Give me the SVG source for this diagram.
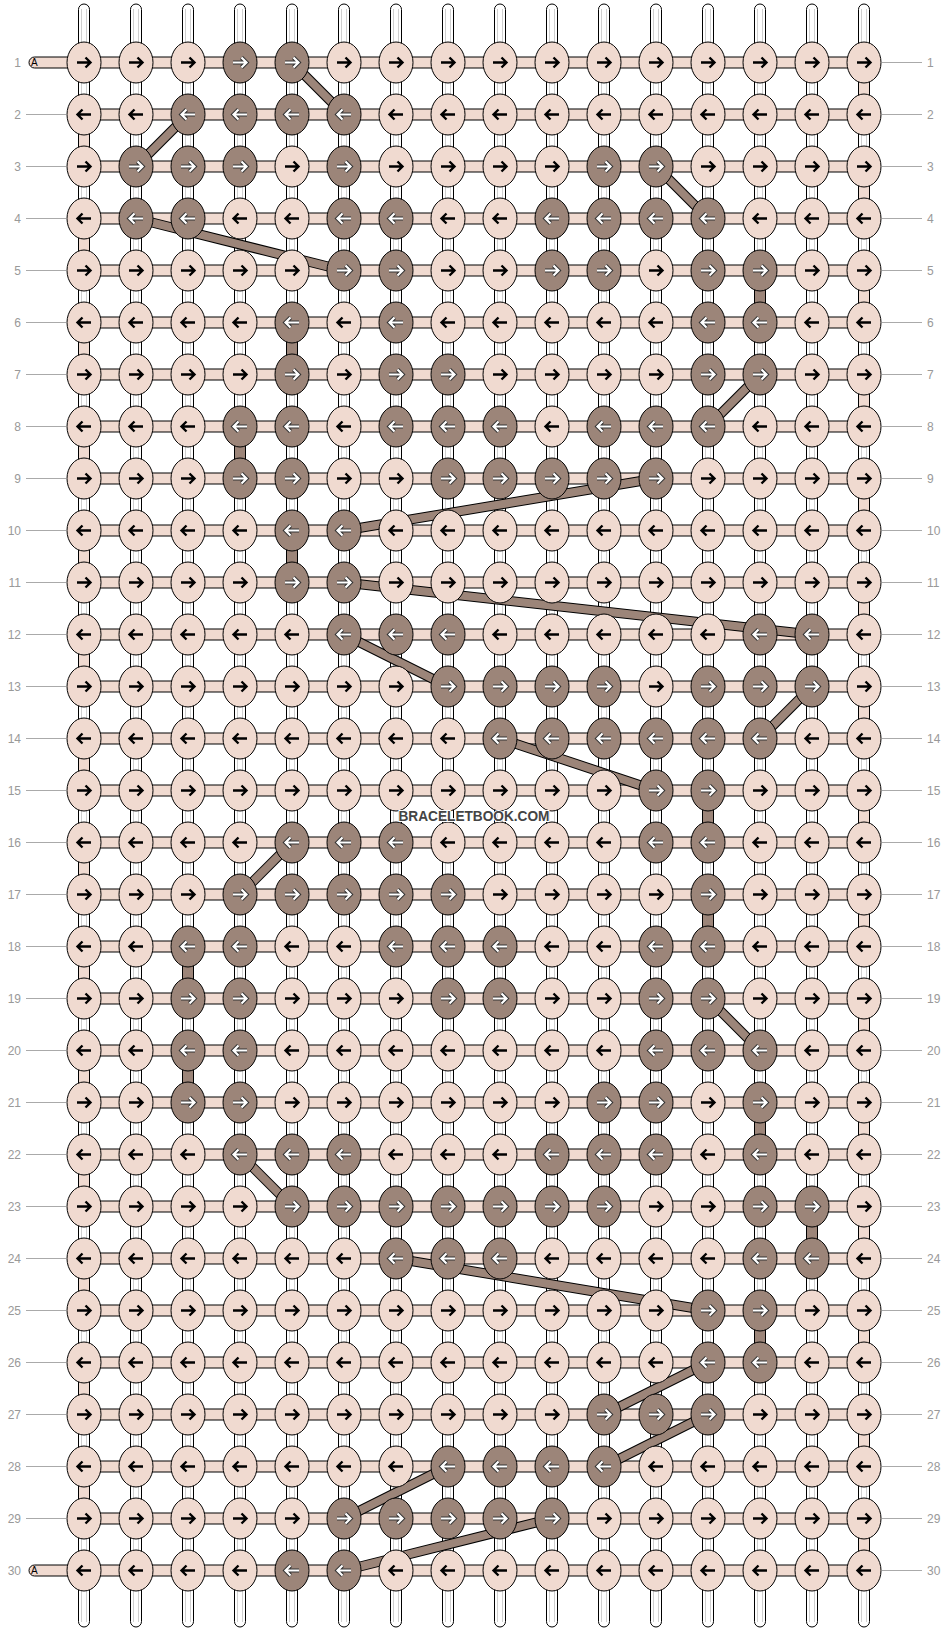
<svg xmlns="http://www.w3.org/2000/svg" xmlns:xlink="http://www.w3.org/1999/xlink" width="948" height="1632" viewBox="0 0 948 1632">
<style>
.vs{fill:#fff;stroke:#000;stroke-width:1}
.vl{stroke:#cfcfcf;stroke-width:1;fill:none}
.hs{fill:#f0dad0;stroke:#000;stroke-width:1}
.dv{fill:#9c8579;stroke:#000;stroke-width:1}
.bo{stroke:#000;stroke-width:10;fill:none}
.bi{stroke:#9c8579;stroke-width:8;fill:none}
.kl{fill:#f0dad0;stroke:#000;stroke-width:1}
.kd{fill:#9c8579;stroke:#000;stroke-width:1}
.ab{fill:none;stroke:#000;stroke-width:2.4}
.ao{fill:none;stroke:#333;stroke-width:4.2}
.aw{fill:none;stroke:#fff;stroke-width:2.2}
.lb{font-family:"Liberation Sans",Arial,sans-serif;font-size:12px;fill:#999}
.ll{stroke:#aaa;stroke-width:1}
.a{font-family:"Liberation Sans",Arial,sans-serif;font-size:10px;fill:#000}
.wm{font-family:"Liberation Sans",Arial,sans-serif;font-size:14.5px;font-weight:bold;fill:#444;stroke:#fff;stroke-width:2;paint-order:stroke}
</style>
<defs>
<g id="vs"><rect class="vs" x="-5.5" y="4" width="11" height="1623" rx="5.5"/><path class="vl" d="M-2.5 9V1622M2.5 9V1622"/></g>
<g id="LR"><ellipse class="kl" rx="17" ry="20.5"/><path class="ab" d="M-7 0H6M1.5-5L6.5 0L1.5 5"/></g>
<g id="LL"><ellipse class="kl" rx="17" ry="20.5"/><path class="ab" d="M7 0H-6M-1.5-5L-6.5 0L-1.5 5"/></g>
<g id="DR"><ellipse class="kd" rx="17" ry="20.5"/><path class="ao" d="M-7 0H6M1.5-5L6.5 0L1.5 5"/><path class="aw" d="M-7 0H6M1.5-5L6.5 0L1.5 5"/></g>
<g id="DL"><ellipse class="kd" rx="17" ry="20.5"/><path class="ao" d="M7 0H-6M-1.5-5L-6.5 0L-1.5 5"/><path class="aw" d="M7 0H-6M-1.5-5L-6.5 0L-1.5 5"/></g>
</defs>
<rect width="948" height="1632" fill="#fff"/>
<g id="strings">
<use href="#vs" x="84"/><use href="#vs" x="136"/><use href="#vs" x="188"/><use href="#vs" x="240"/><use href="#vs" x="292"/><use href="#vs" x="344"/><use href="#vs" x="396"/><use href="#vs" x="448"/><use href="#vs" x="500"/><use href="#vs" x="552"/><use href="#vs" x="604"/><use href="#vs" x="656"/><use href="#vs" x="708"/><use href="#vs" x="760"/><use href="#vs" x="812"/><use href="#vs" x="864"/>
<rect class="hs" x="29" y="57" width="835" height="11" rx="5.5"/>
<rect class="hs" x="84" y="109" width="780" height="11"/>
<rect class="hs" x="84" y="161" width="780" height="11"/>
<rect class="hs" x="84" y="213" width="780" height="11"/>
<rect class="hs" x="84" y="265" width="780" height="11"/>
<rect class="hs" x="84" y="317" width="780" height="11"/>
<rect class="hs" x="84" y="369" width="780" height="11"/>
<rect class="hs" x="84" y="421" width="780" height="11"/>
<rect class="hs" x="84" y="473" width="780" height="11"/>
<rect class="hs" x="84" y="525" width="780" height="11"/>
<rect class="hs" x="84" y="577" width="780" height="11"/>
<rect class="hs" x="84" y="629" width="780" height="11"/>
<rect class="hs" x="84" y="681" width="780" height="11"/>
<rect class="hs" x="84" y="733" width="780" height="11"/>
<rect class="hs" x="84" y="785" width="780" height="11"/>
<rect class="hs" x="84" y="837" width="780" height="11"/>
<rect class="hs" x="84" y="889" width="780" height="11"/>
<rect class="hs" x="84" y="941" width="780" height="11"/>
<rect class="hs" x="84" y="993" width="780" height="11"/>
<rect class="hs" x="84" y="1045" width="780" height="11"/>
<rect class="hs" x="84" y="1097" width="780" height="11"/>
<rect class="hs" x="84" y="1149" width="780" height="11"/>
<rect class="hs" x="84" y="1201" width="780" height="11"/>
<rect class="hs" x="84" y="1253" width="780" height="11"/>
<rect class="hs" x="84" y="1305" width="780" height="11"/>
<rect class="hs" x="84" y="1357" width="780" height="11"/>
<rect class="hs" x="84" y="1409" width="780" height="11"/>
<rect class="hs" x="84" y="1461" width="780" height="11"/>
<rect class="hs" x="84" y="1513" width="780" height="11"/>
<rect class="hs" x="29" y="1565" width="835" height="11" rx="5.5"/>
<g id="turns">
<rect class="hs" x="858.5" y="62.5" width="11" height="52"/><rect class="hs" x="858.5" y="166.5" width="11" height="52"/><rect class="hs" x="858.5" y="270.5" width="11" height="52"/><rect class="hs" x="858.5" y="374.5" width="11" height="52"/><rect class="hs" x="858.5" y="478.5" width="11" height="52"/><rect class="hs" x="858.5" y="582.5" width="11" height="52"/><rect class="hs" x="858.5" y="686.5" width="11" height="52"/><rect class="hs" x="858.5" y="790.5" width="11" height="52"/><rect class="hs" x="858.5" y="894.5" width="11" height="52"/><rect class="hs" x="858.5" y="998.5" width="11" height="52"/><rect class="hs" x="858.5" y="1102.5" width="11" height="52"/><rect class="hs" x="858.5" y="1206.5" width="11" height="52"/><rect class="hs" x="858.5" y="1310.5" width="11" height="52"/><rect class="hs" x="858.5" y="1414.5" width="11" height="52"/><rect class="hs" x="858.5" y="1518.5" width="11" height="52"/>
<rect class="hs" x="78.5" y="114.5" width="11" height="52"/><rect class="hs" x="78.5" y="218.5" width="11" height="52"/><rect class="hs" x="78.5" y="322.5" width="11" height="52"/><rect class="hs" x="78.5" y="426.5" width="11" height="52"/><rect class="hs" x="78.5" y="530.5" width="11" height="52"/><rect class="hs" x="78.5" y="634.5" width="11" height="52"/><rect class="hs" x="78.5" y="738.5" width="11" height="52"/><rect class="hs" x="78.5" y="842.5" width="11" height="52"/><rect class="hs" x="78.5" y="946.5" width="11" height="52"/><rect class="hs" x="78.5" y="1050.5" width="11" height="52"/><rect class="hs" x="78.5" y="1154.5" width="11" height="52"/><rect class="hs" x="78.5" y="1258.5" width="11" height="52"/><rect class="hs" x="78.5" y="1362.5" width="11" height="52"/><rect class="hs" x="78.5" y="1466.5" width="11" height="52"/>
</g>
<text class="a" x="31" y="66.2">A</text>
<text class="a" x="31" y="1574.2">A</text>
</g>
<g id="connectors">
<rect class="dv" x="754.5" y="270.5" width="11" height="52"/>
<rect class="dv" x="286.5" y="322.5" width="11" height="52"/>
<rect class="dv" x="234.5" y="426.5" width="11" height="52"/>
<rect class="dv" x="286.5" y="530.5" width="11" height="52"/>
<rect class="dv" x="702.5" y="790.5" width="11" height="52"/>
<rect class="dv" x="702.5" y="894.5" width="11" height="52"/>
<rect class="dv" x="182.5" y="946.5" width="11" height="52"/>
<rect class="dv" x="182.5" y="1050.5" width="11" height="52"/>
<rect class="dv" x="754.5" y="1102.5" width="11" height="52"/>
<rect class="dv" x="806.5" y="1206.5" width="11" height="52"/>
<rect class="dv" x="754.5" y="1310.5" width="11" height="52"/>
<g class="bo">
<line x1="292" y1="62.5" x2="344" y2="114.5"/><line x1="188" y1="114.5" x2="136" y2="166.5"/><line x1="656" y1="166.5" x2="708" y2="218.5"/><line x1="136" y1="218.5" x2="344" y2="270.5"/><line x1="760" y1="374.5" x2="708" y2="426.5"/><line x1="656" y1="478.5" x2="344" y2="530.5"/><line x1="344" y1="582.5" x2="812" y2="634.5"/><line x1="344" y1="634.5" x2="448" y2="686.5"/><line x1="812" y1="686.5" x2="760" y2="738.5"/><line x1="500" y1="738.5" x2="656" y2="790.5"/><line x1="292" y1="842.5" x2="240" y2="894.5"/><line x1="708" y1="998.5" x2="760" y2="1050.5"/><line x1="240" y1="1154.5" x2="292" y2="1206.5"/><line x1="396" y1="1258.5" x2="708" y2="1310.5"/><line x1="708" y1="1362.5" x2="604" y2="1414.5"/><line x1="708" y1="1414.5" x2="604" y2="1466.5"/><line x1="448" y1="1466.5" x2="344" y2="1518.5"/><line x1="552" y1="1518.5" x2="344" y2="1570.5"/>
</g>
<g class="bi">
<line x1="292" y1="62.5" x2="344" y2="114.5"/><line x1="188" y1="114.5" x2="136" y2="166.5"/><line x1="656" y1="166.5" x2="708" y2="218.5"/><line x1="136" y1="218.5" x2="344" y2="270.5"/><line x1="760" y1="374.5" x2="708" y2="426.5"/><line x1="656" y1="478.5" x2="344" y2="530.5"/><line x1="344" y1="582.5" x2="812" y2="634.5"/><line x1="344" y1="634.5" x2="448" y2="686.5"/><line x1="812" y1="686.5" x2="760" y2="738.5"/><line x1="500" y1="738.5" x2="656" y2="790.5"/><line x1="292" y1="842.5" x2="240" y2="894.5"/><line x1="708" y1="998.5" x2="760" y2="1050.5"/><line x1="240" y1="1154.5" x2="292" y2="1206.5"/><line x1="396" y1="1258.5" x2="708" y2="1310.5"/><line x1="708" y1="1362.5" x2="604" y2="1414.5"/><line x1="708" y1="1414.5" x2="604" y2="1466.5"/><line x1="448" y1="1466.5" x2="344" y2="1518.5"/><line x1="552" y1="1518.5" x2="344" y2="1570.5"/>
</g>
</g>
<g id="knots">
<g id="r1" transform="translate(0 62.5)"><g id="k1-1"><use href="#LR" x="84"/></g><g id="k1-2"><use href="#LR" x="136"/></g><g id="k1-3"><use href="#LR" x="188"/></g><g id="k1-4"><use href="#DR" x="240"/></g><g id="k1-5"><use href="#DR" x="292"/></g><g id="k1-6"><use href="#LR" x="344"/></g><g id="k1-7"><use href="#LR" x="396"/></g><g id="k1-8"><use href="#LR" x="448"/></g><g id="k1-9"><use href="#LR" x="500"/></g><g id="k1-10"><use href="#LR" x="552"/></g><g id="k1-11"><use href="#LR" x="604"/></g><g id="k1-12"><use href="#LR" x="656"/></g><g id="k1-13"><use href="#LR" x="708"/></g><g id="k1-14"><use href="#LR" x="760"/></g><g id="k1-15"><use href="#LR" x="812"/></g><g id="k1-16"><use href="#LR" x="864"/></g></g>
<g id="r2" transform="translate(0 114.5)"><g id="k2-1"><use href="#LL" x="84"/></g><g id="k2-2"><use href="#LL" x="136"/></g><g id="k2-3"><use href="#DL" x="188"/></g><g id="k2-4"><use href="#DL" x="240"/></g><g id="k2-5"><use href="#DL" x="292"/></g><g id="k2-6"><use href="#DL" x="344"/></g><g id="k2-7"><use href="#LL" x="396"/></g><g id="k2-8"><use href="#LL" x="448"/></g><g id="k2-9"><use href="#LL" x="500"/></g><g id="k2-10"><use href="#LL" x="552"/></g><g id="k2-11"><use href="#LL" x="604"/></g><g id="k2-12"><use href="#LL" x="656"/></g><g id="k2-13"><use href="#LL" x="708"/></g><g id="k2-14"><use href="#LL" x="760"/></g><g id="k2-15"><use href="#LL" x="812"/></g><g id="k2-16"><use href="#LL" x="864"/></g></g>
<g id="r3" transform="translate(0 166.5)"><g id="k3-1"><use href="#LR" x="84"/></g><g id="k3-2"><use href="#DR" x="136"/></g><g id="k3-3"><use href="#DR" x="188"/></g><g id="k3-4"><use href="#DR" x="240"/></g><g id="k3-5"><use href="#LR" x="292"/></g><g id="k3-6"><use href="#DR" x="344"/></g><g id="k3-7"><use href="#LR" x="396"/></g><g id="k3-8"><use href="#LR" x="448"/></g><g id="k3-9"><use href="#LR" x="500"/></g><g id="k3-10"><use href="#LR" x="552"/></g><g id="k3-11"><use href="#DR" x="604"/></g><g id="k3-12"><use href="#DR" x="656"/></g><g id="k3-13"><use href="#LR" x="708"/></g><g id="k3-14"><use href="#LR" x="760"/></g><g id="k3-15"><use href="#LR" x="812"/></g><g id="k3-16"><use href="#LR" x="864"/></g></g>
<g id="r4" transform="translate(0 218.5)"><g id="k4-1"><use href="#LL" x="84"/></g><g id="k4-2"><use href="#DL" x="136"/></g><g id="k4-3"><use href="#DL" x="188"/></g><g id="k4-4"><use href="#LL" x="240"/></g><g id="k4-5"><use href="#LL" x="292"/></g><g id="k4-6"><use href="#DL" x="344"/></g><g id="k4-7"><use href="#DL" x="396"/></g><g id="k4-8"><use href="#LL" x="448"/></g><g id="k4-9"><use href="#LL" x="500"/></g><g id="k4-10"><use href="#DL" x="552"/></g><g id="k4-11"><use href="#DL" x="604"/></g><g id="k4-12"><use href="#DL" x="656"/></g><g id="k4-13"><use href="#DL" x="708"/></g><g id="k4-14"><use href="#LL" x="760"/></g><g id="k4-15"><use href="#LL" x="812"/></g><g id="k4-16"><use href="#LL" x="864"/></g></g>
<g id="r5" transform="translate(0 270.5)"><g id="k5-1"><use href="#LR" x="84"/></g><g id="k5-2"><use href="#LR" x="136"/></g><g id="k5-3"><use href="#LR" x="188"/></g><g id="k5-4"><use href="#LR" x="240"/></g><g id="k5-5"><use href="#LR" x="292"/></g><g id="k5-6"><use href="#DR" x="344"/></g><g id="k5-7"><use href="#DR" x="396"/></g><g id="k5-8"><use href="#LR" x="448"/></g><g id="k5-9"><use href="#LR" x="500"/></g><g id="k5-10"><use href="#DR" x="552"/></g><g id="k5-11"><use href="#DR" x="604"/></g><g id="k5-12"><use href="#LR" x="656"/></g><g id="k5-13"><use href="#DR" x="708"/></g><g id="k5-14"><use href="#DR" x="760"/></g><g id="k5-15"><use href="#LR" x="812"/></g><g id="k5-16"><use href="#LR" x="864"/></g></g>
<g id="r6" transform="translate(0 322.5)"><g id="k6-1"><use href="#LL" x="84"/></g><g id="k6-2"><use href="#LL" x="136"/></g><g id="k6-3"><use href="#LL" x="188"/></g><g id="k6-4"><use href="#LL" x="240"/></g><g id="k6-5"><use href="#DL" x="292"/></g><g id="k6-6"><use href="#LL" x="344"/></g><g id="k6-7"><use href="#DL" x="396"/></g><g id="k6-8"><use href="#LL" x="448"/></g><g id="k6-9"><use href="#LL" x="500"/></g><g id="k6-10"><use href="#LL" x="552"/></g><g id="k6-11"><use href="#LL" x="604"/></g><g id="k6-12"><use href="#LL" x="656"/></g><g id="k6-13"><use href="#DL" x="708"/></g><g id="k6-14"><use href="#DL" x="760"/></g><g id="k6-15"><use href="#LL" x="812"/></g><g id="k6-16"><use href="#LL" x="864"/></g></g>
<g id="r7" transform="translate(0 374.5)"><g id="k7-1"><use href="#LR" x="84"/></g><g id="k7-2"><use href="#LR" x="136"/></g><g id="k7-3"><use href="#LR" x="188"/></g><g id="k7-4"><use href="#LR" x="240"/></g><g id="k7-5"><use href="#DR" x="292"/></g><g id="k7-6"><use href="#LR" x="344"/></g><g id="k7-7"><use href="#DR" x="396"/></g><g id="k7-8"><use href="#DR" x="448"/></g><g id="k7-9"><use href="#LR" x="500"/></g><g id="k7-10"><use href="#LR" x="552"/></g><g id="k7-11"><use href="#LR" x="604"/></g><g id="k7-12"><use href="#LR" x="656"/></g><g id="k7-13"><use href="#DR" x="708"/></g><g id="k7-14"><use href="#DR" x="760"/></g><g id="k7-15"><use href="#LR" x="812"/></g><g id="k7-16"><use href="#LR" x="864"/></g></g>
<g id="r8" transform="translate(0 426.5)"><g id="k8-1"><use href="#LL" x="84"/></g><g id="k8-2"><use href="#LL" x="136"/></g><g id="k8-3"><use href="#LL" x="188"/></g><g id="k8-4"><use href="#DL" x="240"/></g><g id="k8-5"><use href="#DL" x="292"/></g><g id="k8-6"><use href="#LL" x="344"/></g><g id="k8-7"><use href="#DL" x="396"/></g><g id="k8-8"><use href="#DL" x="448"/></g><g id="k8-9"><use href="#DL" x="500"/></g><g id="k8-10"><use href="#LL" x="552"/></g><g id="k8-11"><use href="#DL" x="604"/></g><g id="k8-12"><use href="#DL" x="656"/></g><g id="k8-13"><use href="#DL" x="708"/></g><g id="k8-14"><use href="#LL" x="760"/></g><g id="k8-15"><use href="#LL" x="812"/></g><g id="k8-16"><use href="#LL" x="864"/></g></g>
<g id="r9" transform="translate(0 478.5)"><g id="k9-1"><use href="#LR" x="84"/></g><g id="k9-2"><use href="#LR" x="136"/></g><g id="k9-3"><use href="#LR" x="188"/></g><g id="k9-4"><use href="#DR" x="240"/></g><g id="k9-5"><use href="#DR" x="292"/></g><g id="k9-6"><use href="#LR" x="344"/></g><g id="k9-7"><use href="#LR" x="396"/></g><g id="k9-8"><use href="#DR" x="448"/></g><g id="k9-9"><use href="#DR" x="500"/></g><g id="k9-10"><use href="#DR" x="552"/></g><g id="k9-11"><use href="#DR" x="604"/></g><g id="k9-12"><use href="#DR" x="656"/></g><g id="k9-13"><use href="#LR" x="708"/></g><g id="k9-14"><use href="#LR" x="760"/></g><g id="k9-15"><use href="#LR" x="812"/></g><g id="k9-16"><use href="#LR" x="864"/></g></g>
<g id="r10" transform="translate(0 530.5)"><g id="k10-1"><use href="#LL" x="84"/></g><g id="k10-2"><use href="#LL" x="136"/></g><g id="k10-3"><use href="#LL" x="188"/></g><g id="k10-4"><use href="#LL" x="240"/></g><g id="k10-5"><use href="#DL" x="292"/></g><g id="k10-6"><use href="#DL" x="344"/></g><g id="k10-7"><use href="#LL" x="396"/></g><g id="k10-8"><use href="#LL" x="448"/></g><g id="k10-9"><use href="#LL" x="500"/></g><g id="k10-10"><use href="#LL" x="552"/></g><g id="k10-11"><use href="#LL" x="604"/></g><g id="k10-12"><use href="#LL" x="656"/></g><g id="k10-13"><use href="#LL" x="708"/></g><g id="k10-14"><use href="#LL" x="760"/></g><g id="k10-15"><use href="#LL" x="812"/></g><g id="k10-16"><use href="#LL" x="864"/></g></g>
<g id="r11" transform="translate(0 582.5)"><g id="k11-1"><use href="#LR" x="84"/></g><g id="k11-2"><use href="#LR" x="136"/></g><g id="k11-3"><use href="#LR" x="188"/></g><g id="k11-4"><use href="#LR" x="240"/></g><g id="k11-5"><use href="#DR" x="292"/></g><g id="k11-6"><use href="#DR" x="344"/></g><g id="k11-7"><use href="#LR" x="396"/></g><g id="k11-8"><use href="#LR" x="448"/></g><g id="k11-9"><use href="#LR" x="500"/></g><g id="k11-10"><use href="#LR" x="552"/></g><g id="k11-11"><use href="#LR" x="604"/></g><g id="k11-12"><use href="#LR" x="656"/></g><g id="k11-13"><use href="#LR" x="708"/></g><g id="k11-14"><use href="#LR" x="760"/></g><g id="k11-15"><use href="#LR" x="812"/></g><g id="k11-16"><use href="#LR" x="864"/></g></g>
<g id="r12" transform="translate(0 634.5)"><g id="k12-1"><use href="#LL" x="84"/></g><g id="k12-2"><use href="#LL" x="136"/></g><g id="k12-3"><use href="#LL" x="188"/></g><g id="k12-4"><use href="#LL" x="240"/></g><g id="k12-5"><use href="#LL" x="292"/></g><g id="k12-6"><use href="#DL" x="344"/></g><g id="k12-7"><use href="#DL" x="396"/></g><g id="k12-8"><use href="#DL" x="448"/></g><g id="k12-9"><use href="#LL" x="500"/></g><g id="k12-10"><use href="#LL" x="552"/></g><g id="k12-11"><use href="#LL" x="604"/></g><g id="k12-12"><use href="#LL" x="656"/></g><g id="k12-13"><use href="#LL" x="708"/></g><g id="k12-14"><use href="#DL" x="760"/></g><g id="k12-15"><use href="#DL" x="812"/></g><g id="k12-16"><use href="#LL" x="864"/></g></g>
<g id="r13" transform="translate(0 686.5)"><g id="k13-1"><use href="#LR" x="84"/></g><g id="k13-2"><use href="#LR" x="136"/></g><g id="k13-3"><use href="#LR" x="188"/></g><g id="k13-4"><use href="#LR" x="240"/></g><g id="k13-5"><use href="#LR" x="292"/></g><g id="k13-6"><use href="#LR" x="344"/></g><g id="k13-7"><use href="#LR" x="396"/></g><g id="k13-8"><use href="#DR" x="448"/></g><g id="k13-9"><use href="#DR" x="500"/></g><g id="k13-10"><use href="#DR" x="552"/></g><g id="k13-11"><use href="#DR" x="604"/></g><g id="k13-12"><use href="#LR" x="656"/></g><g id="k13-13"><use href="#DR" x="708"/></g><g id="k13-14"><use href="#DR" x="760"/></g><g id="k13-15"><use href="#DR" x="812"/></g><g id="k13-16"><use href="#LR" x="864"/></g></g>
<g id="r14" transform="translate(0 738.5)"><g id="k14-1"><use href="#LL" x="84"/></g><g id="k14-2"><use href="#LL" x="136"/></g><g id="k14-3"><use href="#LL" x="188"/></g><g id="k14-4"><use href="#LL" x="240"/></g><g id="k14-5"><use href="#LL" x="292"/></g><g id="k14-6"><use href="#LL" x="344"/></g><g id="k14-7"><use href="#LL" x="396"/></g><g id="k14-8"><use href="#LL" x="448"/></g><g id="k14-9"><use href="#DL" x="500"/></g><g id="k14-10"><use href="#DL" x="552"/></g><g id="k14-11"><use href="#DL" x="604"/></g><g id="k14-12"><use href="#DL" x="656"/></g><g id="k14-13"><use href="#DL" x="708"/></g><g id="k14-14"><use href="#DL" x="760"/></g><g id="k14-15"><use href="#LL" x="812"/></g><g id="k14-16"><use href="#LL" x="864"/></g></g>
<g id="r15" transform="translate(0 790.5)"><g id="k15-1"><use href="#LR" x="84"/></g><g id="k15-2"><use href="#LR" x="136"/></g><g id="k15-3"><use href="#LR" x="188"/></g><g id="k15-4"><use href="#LR" x="240"/></g><g id="k15-5"><use href="#LR" x="292"/></g><g id="k15-6"><use href="#LR" x="344"/></g><g id="k15-7"><use href="#LR" x="396"/></g><g id="k15-8"><use href="#LR" x="448"/></g><g id="k15-9"><use href="#LR" x="500"/></g><g id="k15-10"><use href="#LR" x="552"/></g><g id="k15-11"><use href="#LR" x="604"/></g><g id="k15-12"><use href="#DR" x="656"/></g><g id="k15-13"><use href="#DR" x="708"/></g><g id="k15-14"><use href="#LR" x="760"/></g><g id="k15-15"><use href="#LR" x="812"/></g><g id="k15-16"><use href="#LR" x="864"/></g></g>
<g id="r16" transform="translate(0 842.5)"><g id="k16-1"><use href="#LL" x="84"/></g><g id="k16-2"><use href="#LL" x="136"/></g><g id="k16-3"><use href="#LL" x="188"/></g><g id="k16-4"><use href="#LL" x="240"/></g><g id="k16-5"><use href="#DL" x="292"/></g><g id="k16-6"><use href="#DL" x="344"/></g><g id="k16-7"><use href="#DL" x="396"/></g><g id="k16-8"><use href="#LL" x="448"/></g><g id="k16-9"><use href="#LL" x="500"/></g><g id="k16-10"><use href="#LL" x="552"/></g><g id="k16-11"><use href="#LL" x="604"/></g><g id="k16-12"><use href="#DL" x="656"/></g><g id="k16-13"><use href="#DL" x="708"/></g><g id="k16-14"><use href="#LL" x="760"/></g><g id="k16-15"><use href="#LL" x="812"/></g><g id="k16-16"><use href="#LL" x="864"/></g></g>
<g id="r17" transform="translate(0 894.5)"><g id="k17-1"><use href="#LR" x="84"/></g><g id="k17-2"><use href="#LR" x="136"/></g><g id="k17-3"><use href="#LR" x="188"/></g><g id="k17-4"><use href="#DR" x="240"/></g><g id="k17-5"><use href="#DR" x="292"/></g><g id="k17-6"><use href="#DR" x="344"/></g><g id="k17-7"><use href="#DR" x="396"/></g><g id="k17-8"><use href="#DR" x="448"/></g><g id="k17-9"><use href="#LR" x="500"/></g><g id="k17-10"><use href="#LR" x="552"/></g><g id="k17-11"><use href="#LR" x="604"/></g><g id="k17-12"><use href="#LR" x="656"/></g><g id="k17-13"><use href="#DR" x="708"/></g><g id="k17-14"><use href="#LR" x="760"/></g><g id="k17-15"><use href="#LR" x="812"/></g><g id="k17-16"><use href="#LR" x="864"/></g></g>
<g id="r18" transform="translate(0 946.5)"><g id="k18-1"><use href="#LL" x="84"/></g><g id="k18-2"><use href="#LL" x="136"/></g><g id="k18-3"><use href="#DL" x="188"/></g><g id="k18-4"><use href="#DL" x="240"/></g><g id="k18-5"><use href="#LL" x="292"/></g><g id="k18-6"><use href="#LL" x="344"/></g><g id="k18-7"><use href="#DL" x="396"/></g><g id="k18-8"><use href="#DL" x="448"/></g><g id="k18-9"><use href="#DL" x="500"/></g><g id="k18-10"><use href="#LL" x="552"/></g><g id="k18-11"><use href="#LL" x="604"/></g><g id="k18-12"><use href="#DL" x="656"/></g><g id="k18-13"><use href="#DL" x="708"/></g><g id="k18-14"><use href="#LL" x="760"/></g><g id="k18-15"><use href="#LL" x="812"/></g><g id="k18-16"><use href="#LL" x="864"/></g></g>
<g id="r19" transform="translate(0 998.5)"><g id="k19-1"><use href="#LR" x="84"/></g><g id="k19-2"><use href="#LR" x="136"/></g><g id="k19-3"><use href="#DR" x="188"/></g><g id="k19-4"><use href="#DR" x="240"/></g><g id="k19-5"><use href="#LR" x="292"/></g><g id="k19-6"><use href="#LR" x="344"/></g><g id="k19-7"><use href="#LR" x="396"/></g><g id="k19-8"><use href="#DR" x="448"/></g><g id="k19-9"><use href="#DR" x="500"/></g><g id="k19-10"><use href="#LR" x="552"/></g><g id="k19-11"><use href="#LR" x="604"/></g><g id="k19-12"><use href="#DR" x="656"/></g><g id="k19-13"><use href="#DR" x="708"/></g><g id="k19-14"><use href="#LR" x="760"/></g><g id="k19-15"><use href="#LR" x="812"/></g><g id="k19-16"><use href="#LR" x="864"/></g></g>
<g id="r20" transform="translate(0 1050.5)"><g id="k20-1"><use href="#LL" x="84"/></g><g id="k20-2"><use href="#LL" x="136"/></g><g id="k20-3"><use href="#DL" x="188"/></g><g id="k20-4"><use href="#DL" x="240"/></g><g id="k20-5"><use href="#LL" x="292"/></g><g id="k20-6"><use href="#LL" x="344"/></g><g id="k20-7"><use href="#LL" x="396"/></g><g id="k20-8"><use href="#LL" x="448"/></g><g id="k20-9"><use href="#LL" x="500"/></g><g id="k20-10"><use href="#LL" x="552"/></g><g id="k20-11"><use href="#LL" x="604"/></g><g id="k20-12"><use href="#DL" x="656"/></g><g id="k20-13"><use href="#DL" x="708"/></g><g id="k20-14"><use href="#DL" x="760"/></g><g id="k20-15"><use href="#LL" x="812"/></g><g id="k20-16"><use href="#LL" x="864"/></g></g>
<g id="r21" transform="translate(0 1102.5)"><g id="k21-1"><use href="#LR" x="84"/></g><g id="k21-2"><use href="#LR" x="136"/></g><g id="k21-3"><use href="#DR" x="188"/></g><g id="k21-4"><use href="#DR" x="240"/></g><g id="k21-5"><use href="#LR" x="292"/></g><g id="k21-6"><use href="#LR" x="344"/></g><g id="k21-7"><use href="#LR" x="396"/></g><g id="k21-8"><use href="#LR" x="448"/></g><g id="k21-9"><use href="#LR" x="500"/></g><g id="k21-10"><use href="#LR" x="552"/></g><g id="k21-11"><use href="#DR" x="604"/></g><g id="k21-12"><use href="#DR" x="656"/></g><g id="k21-13"><use href="#LR" x="708"/></g><g id="k21-14"><use href="#DR" x="760"/></g><g id="k21-15"><use href="#LR" x="812"/></g><g id="k21-16"><use href="#LR" x="864"/></g></g>
<g id="r22" transform="translate(0 1154.5)"><g id="k22-1"><use href="#LL" x="84"/></g><g id="k22-2"><use href="#LL" x="136"/></g><g id="k22-3"><use href="#LL" x="188"/></g><g id="k22-4"><use href="#DL" x="240"/></g><g id="k22-5"><use href="#DL" x="292"/></g><g id="k22-6"><use href="#DL" x="344"/></g><g id="k22-7"><use href="#LL" x="396"/></g><g id="k22-8"><use href="#LL" x="448"/></g><g id="k22-9"><use href="#LL" x="500"/></g><g id="k22-10"><use href="#DL" x="552"/></g><g id="k22-11"><use href="#DL" x="604"/></g><g id="k22-12"><use href="#DL" x="656"/></g><g id="k22-13"><use href="#LL" x="708"/></g><g id="k22-14"><use href="#DL" x="760"/></g><g id="k22-15"><use href="#LL" x="812"/></g><g id="k22-16"><use href="#LL" x="864"/></g></g>
<g id="r23" transform="translate(0 1206.5)"><g id="k23-1"><use href="#LR" x="84"/></g><g id="k23-2"><use href="#LR" x="136"/></g><g id="k23-3"><use href="#LR" x="188"/></g><g id="k23-4"><use href="#LR" x="240"/></g><g id="k23-5"><use href="#DR" x="292"/></g><g id="k23-6"><use href="#DR" x="344"/></g><g id="k23-7"><use href="#DR" x="396"/></g><g id="k23-8"><use href="#DR" x="448"/></g><g id="k23-9"><use href="#DR" x="500"/></g><g id="k23-10"><use href="#DR" x="552"/></g><g id="k23-11"><use href="#DR" x="604"/></g><g id="k23-12"><use href="#LR" x="656"/></g><g id="k23-13"><use href="#LR" x="708"/></g><g id="k23-14"><use href="#DR" x="760"/></g><g id="k23-15"><use href="#DR" x="812"/></g><g id="k23-16"><use href="#LR" x="864"/></g></g>
<g id="r24" transform="translate(0 1258.5)"><g id="k24-1"><use href="#LL" x="84"/></g><g id="k24-2"><use href="#LL" x="136"/></g><g id="k24-3"><use href="#LL" x="188"/></g><g id="k24-4"><use href="#LL" x="240"/></g><g id="k24-5"><use href="#LL" x="292"/></g><g id="k24-6"><use href="#LL" x="344"/></g><g id="k24-7"><use href="#DL" x="396"/></g><g id="k24-8"><use href="#DL" x="448"/></g><g id="k24-9"><use href="#DL" x="500"/></g><g id="k24-10"><use href="#LL" x="552"/></g><g id="k24-11"><use href="#LL" x="604"/></g><g id="k24-12"><use href="#LL" x="656"/></g><g id="k24-13"><use href="#LL" x="708"/></g><g id="k24-14"><use href="#DL" x="760"/></g><g id="k24-15"><use href="#DL" x="812"/></g><g id="k24-16"><use href="#LL" x="864"/></g></g>
<g id="r25" transform="translate(0 1310.5)"><g id="k25-1"><use href="#LR" x="84"/></g><g id="k25-2"><use href="#LR" x="136"/></g><g id="k25-3"><use href="#LR" x="188"/></g><g id="k25-4"><use href="#LR" x="240"/></g><g id="k25-5"><use href="#LR" x="292"/></g><g id="k25-6"><use href="#LR" x="344"/></g><g id="k25-7"><use href="#LR" x="396"/></g><g id="k25-8"><use href="#LR" x="448"/></g><g id="k25-9"><use href="#LR" x="500"/></g><g id="k25-10"><use href="#LR" x="552"/></g><g id="k25-11"><use href="#LR" x="604"/></g><g id="k25-12"><use href="#LR" x="656"/></g><g id="k25-13"><use href="#DR" x="708"/></g><g id="k25-14"><use href="#DR" x="760"/></g><g id="k25-15"><use href="#LR" x="812"/></g><g id="k25-16"><use href="#LR" x="864"/></g></g>
<g id="r26" transform="translate(0 1362.5)"><g id="k26-1"><use href="#LL" x="84"/></g><g id="k26-2"><use href="#LL" x="136"/></g><g id="k26-3"><use href="#LL" x="188"/></g><g id="k26-4"><use href="#LL" x="240"/></g><g id="k26-5"><use href="#LL" x="292"/></g><g id="k26-6"><use href="#LL" x="344"/></g><g id="k26-7"><use href="#LL" x="396"/></g><g id="k26-8"><use href="#LL" x="448"/></g><g id="k26-9"><use href="#LL" x="500"/></g><g id="k26-10"><use href="#LL" x="552"/></g><g id="k26-11"><use href="#LL" x="604"/></g><g id="k26-12"><use href="#LL" x="656"/></g><g id="k26-13"><use href="#DL" x="708"/></g><g id="k26-14"><use href="#DL" x="760"/></g><g id="k26-15"><use href="#LL" x="812"/></g><g id="k26-16"><use href="#LL" x="864"/></g></g>
<g id="r27" transform="translate(0 1414.5)"><g id="k27-1"><use href="#LR" x="84"/></g><g id="k27-2"><use href="#LR" x="136"/></g><g id="k27-3"><use href="#LR" x="188"/></g><g id="k27-4"><use href="#LR" x="240"/></g><g id="k27-5"><use href="#LR" x="292"/></g><g id="k27-6"><use href="#LR" x="344"/></g><g id="k27-7"><use href="#LR" x="396"/></g><g id="k27-8"><use href="#LR" x="448"/></g><g id="k27-9"><use href="#LR" x="500"/></g><g id="k27-10"><use href="#LR" x="552"/></g><g id="k27-11"><use href="#DR" x="604"/></g><g id="k27-12"><use href="#DR" x="656"/></g><g id="k27-13"><use href="#DR" x="708"/></g><g id="k27-14"><use href="#LR" x="760"/></g><g id="k27-15"><use href="#LR" x="812"/></g><g id="k27-16"><use href="#LR" x="864"/></g></g>
<g id="r28" transform="translate(0 1466.5)"><g id="k28-1"><use href="#LL" x="84"/></g><g id="k28-2"><use href="#LL" x="136"/></g><g id="k28-3"><use href="#LL" x="188"/></g><g id="k28-4"><use href="#LL" x="240"/></g><g id="k28-5"><use href="#LL" x="292"/></g><g id="k28-6"><use href="#LL" x="344"/></g><g id="k28-7"><use href="#LL" x="396"/></g><g id="k28-8"><use href="#DL" x="448"/></g><g id="k28-9"><use href="#DL" x="500"/></g><g id="k28-10"><use href="#DL" x="552"/></g><g id="k28-11"><use href="#DL" x="604"/></g><g id="k28-12"><use href="#LL" x="656"/></g><g id="k28-13"><use href="#LL" x="708"/></g><g id="k28-14"><use href="#LL" x="760"/></g><g id="k28-15"><use href="#LL" x="812"/></g><g id="k28-16"><use href="#LL" x="864"/></g></g>
<g id="r29" transform="translate(0 1518.5)"><g id="k29-1"><use href="#LR" x="84"/></g><g id="k29-2"><use href="#LR" x="136"/></g><g id="k29-3"><use href="#LR" x="188"/></g><g id="k29-4"><use href="#LR" x="240"/></g><g id="k29-5"><use href="#LR" x="292"/></g><g id="k29-6"><use href="#DR" x="344"/></g><g id="k29-7"><use href="#DR" x="396"/></g><g id="k29-8"><use href="#DR" x="448"/></g><g id="k29-9"><use href="#DR" x="500"/></g><g id="k29-10"><use href="#DR" x="552"/></g><g id="k29-11"><use href="#LR" x="604"/></g><g id="k29-12"><use href="#LR" x="656"/></g><g id="k29-13"><use href="#LR" x="708"/></g><g id="k29-14"><use href="#LR" x="760"/></g><g id="k29-15"><use href="#LR" x="812"/></g><g id="k29-16"><use href="#LR" x="864"/></g></g>
<g id="r30" transform="translate(0 1570.5)"><g id="k30-1"><use href="#LL" x="84"/></g><g id="k30-2"><use href="#LL" x="136"/></g><g id="k30-3"><use href="#LL" x="188"/></g><g id="k30-4"><use href="#LL" x="240"/></g><g id="k30-5"><use href="#DL" x="292"/></g><g id="k30-6"><use href="#DL" x="344"/></g><g id="k30-7"><use href="#LL" x="396"/></g><g id="k30-8"><use href="#LL" x="448"/></g><g id="k30-9"><use href="#LL" x="500"/></g><g id="k30-10"><use href="#LL" x="552"/></g><g id="k30-11"><use href="#LL" x="604"/></g><g id="k30-12"><use href="#LL" x="656"/></g><g id="k30-13"><use href="#LL" x="708"/></g><g id="k30-14"><use href="#LL" x="760"/></g><g id="k30-15"><use href="#LL" x="812"/></g><g id="k30-16"><use href="#LL" x="864"/></g></g>
</g>
<g id="labels">
<path class="ll" d="M26 114.5H66M26 166.5H66M26 218.5H66M26 270.5H66M26 322.5H66M26 374.5H66M26 426.5H66M26 478.5H66M26 530.5H66M26 582.5H66M26 634.5H66M26 686.5H66M26 738.5H66M26 790.5H66M26 842.5H66M26 894.5H66M26 946.5H66M26 998.5H66M26 1050.5H66M26 1102.5H66M26 1154.5H66M26 1206.5H66M26 1258.5H66M26 1310.5H66M26 1362.5H66M26 1414.5H66M26 1466.5H66M26 1518.5H66"/>
<path class="ll" d="M882 62.5H922M882 114.5H922M882 166.5H922M882 218.5H922M882 270.5H922M882 322.5H922M882 374.5H922M882 426.5H922M882 478.5H922M882 530.5H922M882 582.5H922M882 634.5H922M882 686.5H922M882 738.5H922M882 790.5H922M882 842.5H922M882 894.5H922M882 946.5H922M882 998.5H922M882 1050.5H922M882 1102.5H922M882 1154.5H922M882 1206.5H922M882 1258.5H922M882 1310.5H922M882 1362.5H922M882 1414.5H922M882 1466.5H922M882 1518.5H922M882 1570.5H922"/>
<g class="lb" text-anchor="end">
<text x="21" y="66.8">1</text><text x="21" y="118.8">2</text><text x="21" y="170.8">3</text><text x="21" y="222.8">4</text><text x="21" y="274.8">5</text><text x="21" y="326.8">6</text><text x="21" y="378.8">7</text><text x="21" y="430.8">8</text><text x="21" y="482.8">9</text><text x="21" y="534.8">10</text><text x="21" y="586.8">11</text><text x="21" y="638.8">12</text><text x="21" y="690.8">13</text><text x="21" y="742.8">14</text><text x="21" y="794.8">15</text><text x="21" y="846.8">16</text><text x="21" y="898.8">17</text><text x="21" y="950.8">18</text><text x="21" y="1002.8">19</text><text x="21" y="1054.8">20</text><text x="21" y="1106.8">21</text><text x="21" y="1158.8">22</text><text x="21" y="1210.8">23</text><text x="21" y="1262.8">24</text><text x="21" y="1314.8">25</text><text x="21" y="1366.8">26</text><text x="21" y="1418.8">27</text><text x="21" y="1470.8">28</text><text x="21" y="1522.8">29</text><text x="21" y="1574.8">30</text>
</g>
<g class="lb">
<text x="927" y="66.8">1</text><text x="927" y="118.8">2</text><text x="927" y="170.8">3</text><text x="927" y="222.8">4</text><text x="927" y="274.8">5</text><text x="927" y="326.8">6</text><text x="927" y="378.8">7</text><text x="927" y="430.8">8</text><text x="927" y="482.8">9</text><text x="927" y="534.8">10</text><text x="927" y="586.8">11</text><text x="927" y="638.8">12</text><text x="927" y="690.8">13</text><text x="927" y="742.8">14</text><text x="927" y="794.8">15</text><text x="927" y="846.8">16</text><text x="927" y="898.8">17</text><text x="927" y="950.8">18</text><text x="927" y="1002.8">19</text><text x="927" y="1054.8">20</text><text x="927" y="1106.8">21</text><text x="927" y="1158.8">22</text><text x="927" y="1210.8">23</text><text x="927" y="1262.8">24</text><text x="927" y="1314.8">25</text><text x="927" y="1366.8">26</text><text x="927" y="1418.8">27</text><text x="927" y="1470.8">28</text><text x="927" y="1522.8">29</text><text x="927" y="1574.8">30</text>
</g>
<text class="wm" x="474" y="821" text-anchor="middle" textLength="151" lengthAdjust="spacingAndGlyphs">BRACELETBOOK.COM</text>
</g>
</svg>
